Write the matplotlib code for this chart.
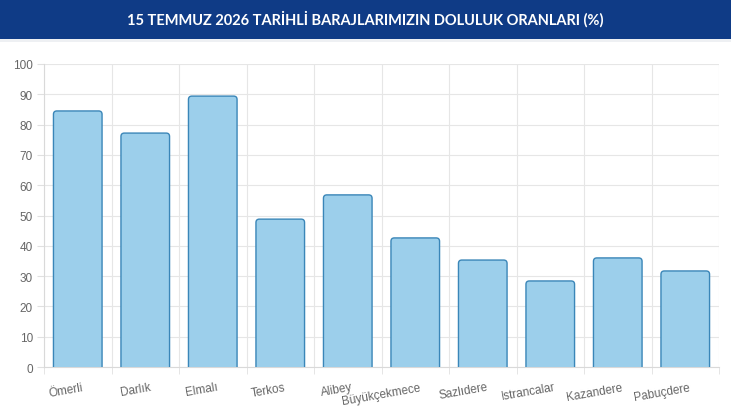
import matplotlib
matplotlib.use("Agg")
import matplotlib.pyplot as plt
import matplotlib.transforms as mtransforms
from matplotlib.patches import Rectangle, FancyBboxPatch

# baraj doluluk oranlari (%)
barajlar = ["Ömerli", "Darlık", "Elmalı", "Terkos", "Alibey", "Büyükçekmece",
            "Sazlıdere", "Istrancalar", "Kazandere", "Pabuçdere"]
oranlar = [84.5, 77.2, 89.4, 48.8, 56.8, 42.6, 35.3, 28.4, 36.0, 31.7]
baslik = "15 TEMMUZ 2026 TARİHLİ BARAJLARIMIZIN DOLULUK ORANLARI (%)"

fig = plt.figure(figsize=(7.31, 4.10), dpi=100)

# header band
fig.patches.append(Rectangle((0, 0.902), 1, 0.098, transform=fig.transFigure,
                             facecolor="#0f3b86", edgecolor="none", zorder=0))
fig.patches.append(Rectangle((0, 0.895), 1, 0.007, transform=fig.transFigure,
                             facecolor="#eef0f3", edgecolor="none", zorder=0))
fig.text(0.5, 0.953, baslik, ha="center", va="center", color="white",
         fontsize=10.5, fontweight="bold", family="Lato")

ax = fig.add_axes([0.0602, 0.1024, 0.9234, 0.7391])
x = range(len(barajlar))
bars = ax.bar(x, oranlar, width=0.72, color="#9ccfeb", edgecolor="#3c8dbf",
              linewidth=1.0, zorder=3)

ax.set_xlim(-0.5, len(barajlar) - 0.5)
ax.set_ylim(0, 100)

# swap bars for rounded ones (same positions from the bar container)
aspect = (100 / 303) / (10 / 675)
for b in bars:
    bx, bw, bh = b.get_x(), b.get_width(), b.get_height()
    b.set_visible(False)
    ax.add_patch(FancyBboxPatch((bx, -2), bw, bh + 2,
                                boxstyle="round,pad=0,rounding_size=0.05",
                                mutation_aspect=aspect, facecolor="#9ccfeb",
                                edgecolor="#3a86b8", linewidth=1.0, zorder=3))

ax.set_yticks(range(0, 101, 10))
ax.tick_params(axis="y", labelsize=8.5, colors="#e0e0e0", labelcolor="#666666",
               length=5, pad=3)
for t in ax.get_yticklabels():
    t.set_family("Liberation Sans")

# vertical grid at category boundaries
ax.set_xticks([i - 0.5 for i in range(len(barajlar) + 1)], minor=True)
ax.set_xticks(list(x))
ax.set_xticklabels(barajlar, rotation=10, fontsize=8.5, color="#666666",
                   family="Liberation Sans", ha="right", rotation_mode="anchor")
ax.tick_params(axis="x", which="major", length=0, pad=10)
ax.tick_params(axis="x", which="minor", length=5, color="#e0e0e0")
shift = mtransforms.ScaledTranslation(4 / 100, 0, fig.dpi_scale_trans)
for t in ax.get_xticklabels():
    t.set_transform(t.get_transform() + shift)
ax.grid(axis="y", color="#e6e6e6", linewidth=0.8, zorder=0)
ax.grid(axis="x", which="minor", color="#e6e6e6", linewidth=0.8, zorder=0)
ax.grid(axis="x", which="major", visible=False)

for s in ["top", "right"]:
    ax.spines[s].set_visible(False)
for s in ["left", "bottom"]:
    ax.spines[s].set_color("#d9d9d9")
    ax.spines[s].set_linewidth(0.8)

fig.savefig("out.png", dpi=100)
